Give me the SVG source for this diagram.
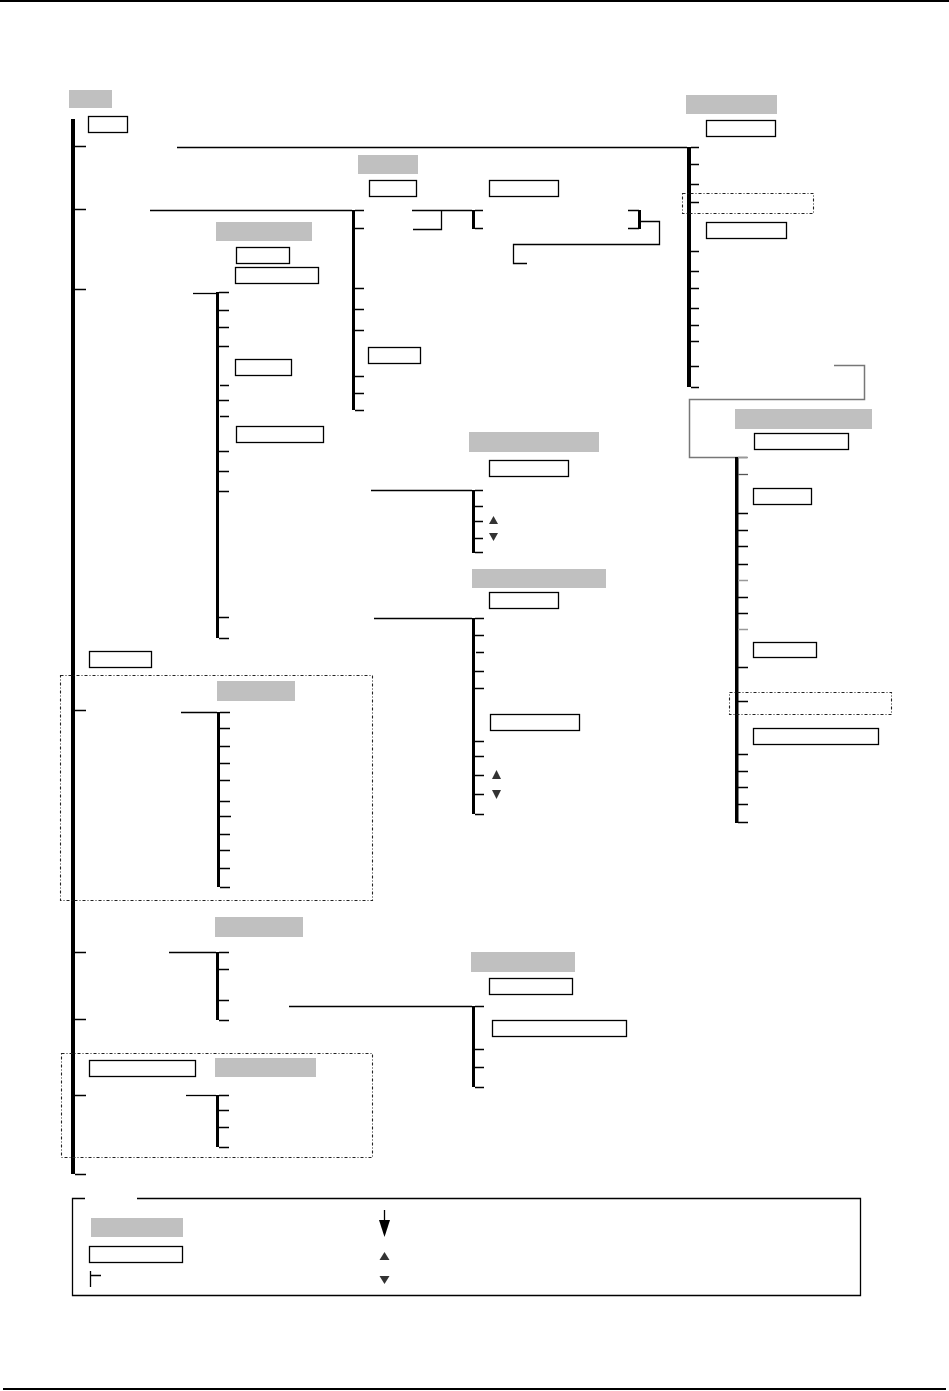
<svg xmlns="http://www.w3.org/2000/svg" width="949" height="1391" viewBox="0 0 949 1391">
<style>
.g{fill:#c0c0c0}
.w{fill:#fff;stroke:#000;stroke-width:1.3}
.bar{fill:#000}
.t{fill:none;stroke:#000;stroke-width:1.3}
.c{fill:none;stroke:#000;stroke-width:1.3}
.cg{fill:none;stroke:#777;stroke-width:1.5}
.d{fill:none;stroke:#222;stroke-width:1.1;stroke-dasharray:3 2 1 2}
.tri{fill:#333}
.frame{fill:#000}
</style>
<rect class="frame" x="0" y="0" width="949" height="2"/>
<rect class="frame" x="3" y="1388" width="943" height="2"/>

<g id="connectors">
<path class="c" d="M177 147.5H687"/>
<path class="c" d="M150 210.5H352"/>
<path class="c" d="M412 210.5H441.5V229.5H413M441.5 210.5H472"/>
<path class="c" d="M641 221.5H659.5V244.5H513.5V263.5H527"/>
<path class="cg" d="M834 365.5H864.5V399.5H689.5V457.5H747"/>
<path class="c" d="M193 293.5H219"/>
<path class="c" d="M371 490.5H472"/>
<path class="c" d="M374 618.5H472"/>
<path class="c" d="M181 712.5H217"/>
<path class="c" d="M169 952.5H216"/>
<path class="c" d="M289 1006.5H472"/>
<path class="c" d="M186 1095.5H216"/>
</g>

<g id="root">
<rect class="g" x="69" y="90" width="43" height="18"/>
<rect class="w" x="88.5" y="116.5" width="39" height="16"/>
<rect class="bar" x="71" y="119" width="4" height="1055"/>
<path class="t" d="M75 146.5h11M75 209.5h11M75 289.5h11M75 710.5h11M75 952.5h11M75 1019.5h11M75 1095.5h11M75 1174.5h11"/>
<rect class="w" x="89.5" y="651.5" width="62" height="16"/>
</g>

<g id="nodeA">
<rect class="g" x="358" y="155" width="60" height="19"/>
<rect class="w" x="369.5" y="180.5" width="47" height="16"/>
<rect class="w" x="489.5" y="180.5" width="69" height="16"/>
<rect class="bar" x="352" y="210" width="3" height="200"/>
<path class="t" d="M355 210.5h9M355 228.5h9M355 288.5h9M355 309.5h9M355 330.5h9M355 376.5h9M355 393.5h9M355 410.5h9"/>
<rect class="w" x="368.5" y="347.5" width="52" height="16"/>
</g>

<g id="nodeB">
<rect class="bar" x="472" y="210" width="3" height="19"/>
<path class="t" d="M475 210.5h8M475 228.5h8"/>
<rect class="bar" x="638" y="210" width="3" height="19"/>
<path class="t" d="M628 210.5h11M628 228.5h11"/>
</g>

<g id="nodeC">
<rect class="g" x="686" y="95" width="91" height="19"/>
<rect class="w" x="706.5" y="120.5" width="69" height="16"/>
<rect class="bar" x="687" y="147" width="4" height="240"/>
<path class="t" d="M691 147.5h8M691 164.5h8M691 184.5h8M691 202.5h8M691 251.5h8M691 271.5h8M691 288.5h8M691 308.5h8M691 325.5h8M691 341.5h8M691 366.5h8M691 387.5h8"/>
<rect class="d" x="682.5" y="193.5" width="131" height="20"/>
<rect class="w" x="706.5" y="222.5" width="80" height="16"/>
</g>

<g id="nodeD">
<rect class="g" x="735" y="409" width="137" height="20"/>
<rect class="w" x="754.5" y="433.5" width="94" height="16"/>
<rect class="bar" x="735" y="457" width="3.5" height="366"/>
<path class="t" d="M738 513.5h10M738 530.5h10M738 546.5h10M738 564.5h10M738 597.5h10M738 613.5h10M738 667.5h10M738 701.5h10M738 754.5h10M738 771.5h10M738 787.5h10M738 804.5h10M738 822.5h10"/>
<path fill="none" stroke="#999" stroke-width="1.5" d="M738 457.5h10M738 580.5h10M738 629.5h10"/>
<path fill="none" stroke="#555" stroke-width="1.3" d="M738 474.5h10"/>
<rect class="w" x="753.5" y="488.5" width="58" height="16"/>
<rect class="w" x="753.5" y="642.5" width="63" height="15"/>
<rect class="d" x="729.5" y="692.5" width="162" height="22"/>
<rect class="w" x="753.5" y="728.5" width="125" height="16"/>
</g>

<g id="nodeE">
<rect class="g" x="216" y="222" width="96" height="19"/>
<rect class="w" x="236.5" y="247.5" width="53" height="16"/>
<rect class="w" x="235.5" y="267.5" width="83" height="16"/>
<rect class="bar" x="216" y="292" width="3" height="346"/>
<path class="t" d="M219 292.5h10M219 310.5h10M219 327.5h10M219 346.5h10M220 385.5h9M219 400.5h10M220 416.5h9M219 451.5h10M219 471.5h10M219 491.5h10M219 617.5h10M219 638.5h10"/>
<rect class="w" x="235.5" y="359.5" width="56" height="16"/>
<rect class="w" x="236.5" y="426.5" width="87" height="16"/>
</g>

<g id="nodeF">
<rect class="g" x="469" y="432" width="130" height="20"/>
<rect class="w" x="489.5" y="460.5" width="79" height="16"/>
<rect class="bar" x="472" y="490" width="3" height="63"/>
<path class="t" d="M475 490.5h8M475 506.5h8M475 521.5h8M475 538.5h8M475 552.5h8"/>
<polygon class="tri" points="493.5,516 498,524 489,524"/>
<polygon class="tri" points="489,533 498,533 493.5,541"/>
</g>

<g id="nodeG">
<rect class="g" x="472" y="569" width="134" height="19"/>
<rect class="w" x="489.5" y="592.5" width="69" height="16"/>
<rect class="bar" x="472" y="618" width="3" height="196"/>
<path class="t" d="M475 618.5h9M475 635.5h9M476 652.5h8M475 671.5h9M475 688.5h9M475 741.5h9M475 756.5h9M475 775.5h9M475 794.5h9M475 814.5h9"/>
<rect class="w" x="490.5" y="714.5" width="89" height="16"/>
<polygon class="tri" points="496.5,770 501,779 492,779"/>
<polygon class="tri" points="492,790 501,790 496.5,799"/>
</g>

<g id="nodeH">
<rect class="d" x="60.5" y="675.5" width="312" height="225"/>
<rect class="g" x="217" y="681" width="78" height="20"/>
<rect class="bar" x="217" y="712" width="3" height="175"/>
<path class="t" d="M220 712.5h10M220 728.5h10M220 746.5h10M220 763.5h10M220 780.5h10M220 801.5h10M220 816.5h11M220 834.5h10M220 850.5h10M220 868.5h10M220 887.5h10"/>
</g>

<g id="nodeI">
<rect class="g" x="215" y="917" width="88" height="20"/>
<rect class="bar" x="216" y="952" width="3" height="68"/>
<path class="t" d="M219 952.5h10M219 969.5h10M219 1000.5h10M219 1020.5h10"/>
</g>

<g id="nodeJ">
<rect class="g" x="471" y="952" width="104" height="20"/>
<rect class="w" x="489.5" y="978.5" width="83" height="16"/>
<rect class="bar" x="472" y="1006" width="3" height="81"/>
<path class="t" d="M475 1006.5h9M475 1049.5h9M475 1067.5h9M475 1087.5h9"/>
<rect class="w" x="492.5" y="1020.5" width="134" height="16"/>
</g>

<g id="nodeK">
<rect class="d" x="61.5" y="1053.5" width="311" height="104"/>
<rect class="w" x="89.5" y="1060.5" width="106" height="16"/>
<rect class="g" x="215" y="1058" width="101" height="19"/>
<rect class="bar" x="216" y="1095" width="3" height="52"/>
<path class="t" d="M219 1095.5h10M219 1110.5h10M219 1127.5h10M219 1147.5h10"/>
</g>

<g id="legend">
<path class="c" d="M85 1198.5H72.5V1295.5H860.5V1198.5H137"/>
<rect class="g" x="91" y="1218" width="92" height="19"/>
<rect class="w" x="89.5" y="1246.5" width="93" height="16"/>
<path class="c" d="M90.5 1271V1287M90 1275.5H101"/>
<path class="c" d="M384.5 1210V1222"/>
<polygon fill="#000" points="379,1220 390,1220 384.5,1237"/>
<polygon class="tri" points="384.5,1252 389.5,1260 379.5,1260"/>
<polygon class="tri" points="379.5,1276 389.5,1276 384.5,1284"/>
</g>
</svg>
